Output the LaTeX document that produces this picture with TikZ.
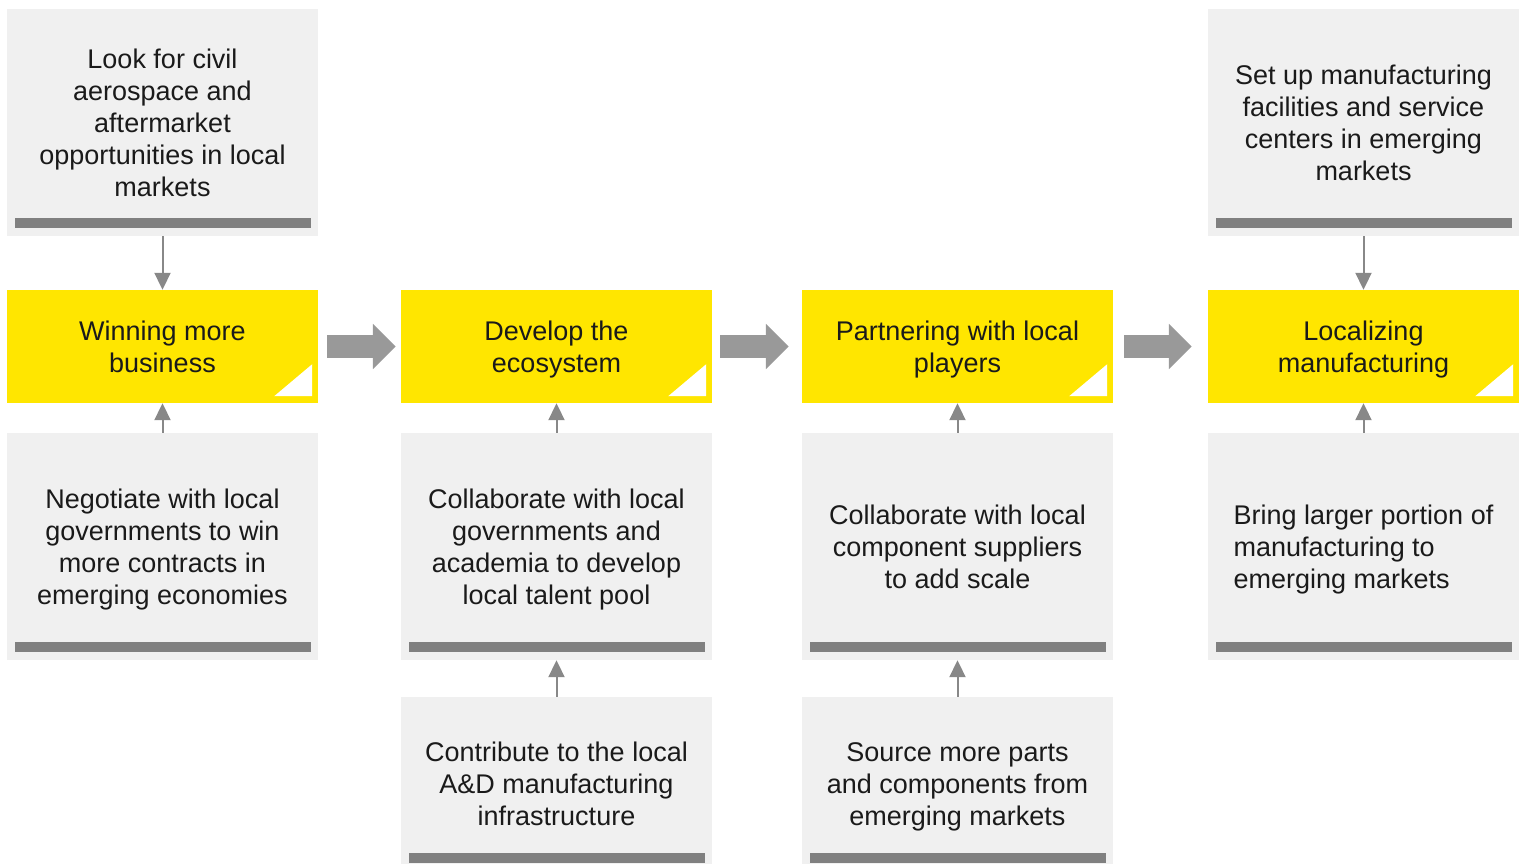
\documentclass[tikz,border=0pt]{standalone}
\usepackage{fontspec}
\setmainfont{Liberation Sans}
\usetikzlibrary{arrows.meta}
\definecolor{eyyellow}{HTML}{FFE600}
\definecolor{boxgrey}{HTML}{F0F0F0}
\definecolor{bargrey}{HTML}{808080}
\definecolor{arrowgrey}{HTML}{999999}
\definecolor{linkgrey}{HTML}{888888}
\definecolor{textgrey}{HTML}{1A1A1A}
\tikzset{
  greybox/.style={fill=boxgrey, minimum width=311pt, minimum height=227pt, inner sep=0pt, align=center},
  lowbox/.style={greybox, minimum height=174pt},
  yellowbox/.style={fill=eyyellow, minimum width=311pt, minimum height=113pt, inner sep=0pt, align=center},
  link/.style={draw=linkgrey, line width=2pt, -{Triangle[width=16pt,length=17pt]}},
  bigarrow/.style={draw=arrowgrey, line width=23pt, -{Triangle[width=44pt,length=23pt]}},
}
\def\greybar(#1){\fill[bargrey] ([shift={(8pt,8pt)}]#1.south west) rectangle ([shift={(-7pt,18pt)}]#1.south east);}
\def\corner(#1){\fill[white] ([shift={(-6pt,7pt)}]#1.south east) -- ++(0,32) -- ++(-38,-32) -- cycle;}

\begin{document}
\begin{tikzpicture}[x=1pt, y=1pt, every node/.style={font=\fontsize{27}{32}\selectfont, text=textgrey, text depth=0pt}]
			%%%%% START %%%%%
			\useasboundingbox (0,0) rectangle (1527,-864);
			\clip (0,0) rectangle (1527,-864);
			
			% stages
			\node[yellowbox] (win) at (162.5,-346.5) {Winning more\\business};
			\node[yellowbox] (dev) at (556.5,-346.5) {Develop the\\ecosystem};
			\node[yellowbox] (part) at (957.5,-346.5) {Partnering with local\\players};
			\node[yellowbox] (loc) at (1363.5,-346.5) {Localizing\\manufacturing};
			\corner(win) \corner(dev) \corner(part) \corner(loc)
			
			% top boxes
			\node[greybox] (civil) at (162.5,-122.5) {Look for civil\\aerospace and\\aftermarket\\opportunities in local\\markets};
			\node[greybox] (setup) at (1363.5,-122.5) {Set up manufacturing\\facilities and service\\centers in emerging\\markets};
			\greybar(civil) \greybar(setup)
			
			% middle boxes
			\node[greybox] (negot) at (162.5,-546.5) {Negotiate with local\\governments to win\\more contracts in\\emerging economies};
			\node[greybox] (acad) at (556.5,-546.5) {Collaborate with local\\governments and\\academia to develop\\local talent pool};
			\node[greybox] (suppl) at (957.5,-546.5) {Collaborate with local\\component suppliers\\to add scale};
			\node[greybox, align=left] (bring) at (1363.5,-546.5) {Bring larger portion of\\manufacturing to\\emerging markets};
			\greybar(negot) \greybar(acad) \greybar(suppl) \greybar(bring)
			
			% bottom boxes
			\node[lowbox] (infra) at (556.5,-784) {Contribute to the local\\A\&D manufacturing\\infrastructure};
			\node[lowbox] (source) at (957.5,-784) {Source more parts\\and components from\\emerging markets};
			\greybar(infra) \greybar(source)
			
			% small arrows
			\draw[link] (civil) -- (win);
			\draw[link] (setup) -- (loc);
			\draw[link] (negot) -- (win);
			\draw[link] (acad) -- (dev);
			\draw[link] (suppl) -- (part);
			\draw[link] (bring) -- (loc);
			\draw[link] (infra) -- (acad);
			\draw[link] (source) -- (suppl);
			
			% big arrows
			\draw[bigarrow] ([xshift=9pt]win.east) -- ([xshift=-5pt]dev.west);
			\draw[bigarrow] ([xshift=8pt]dev.east) -- ([xshift=-13pt]part.west);
			\draw[bigarrow] ([xshift=11pt]part.east) -- ([xshift=-16pt]loc.west);
			%%%%% END %%%%%
\end{tikzpicture}
\end{document}
